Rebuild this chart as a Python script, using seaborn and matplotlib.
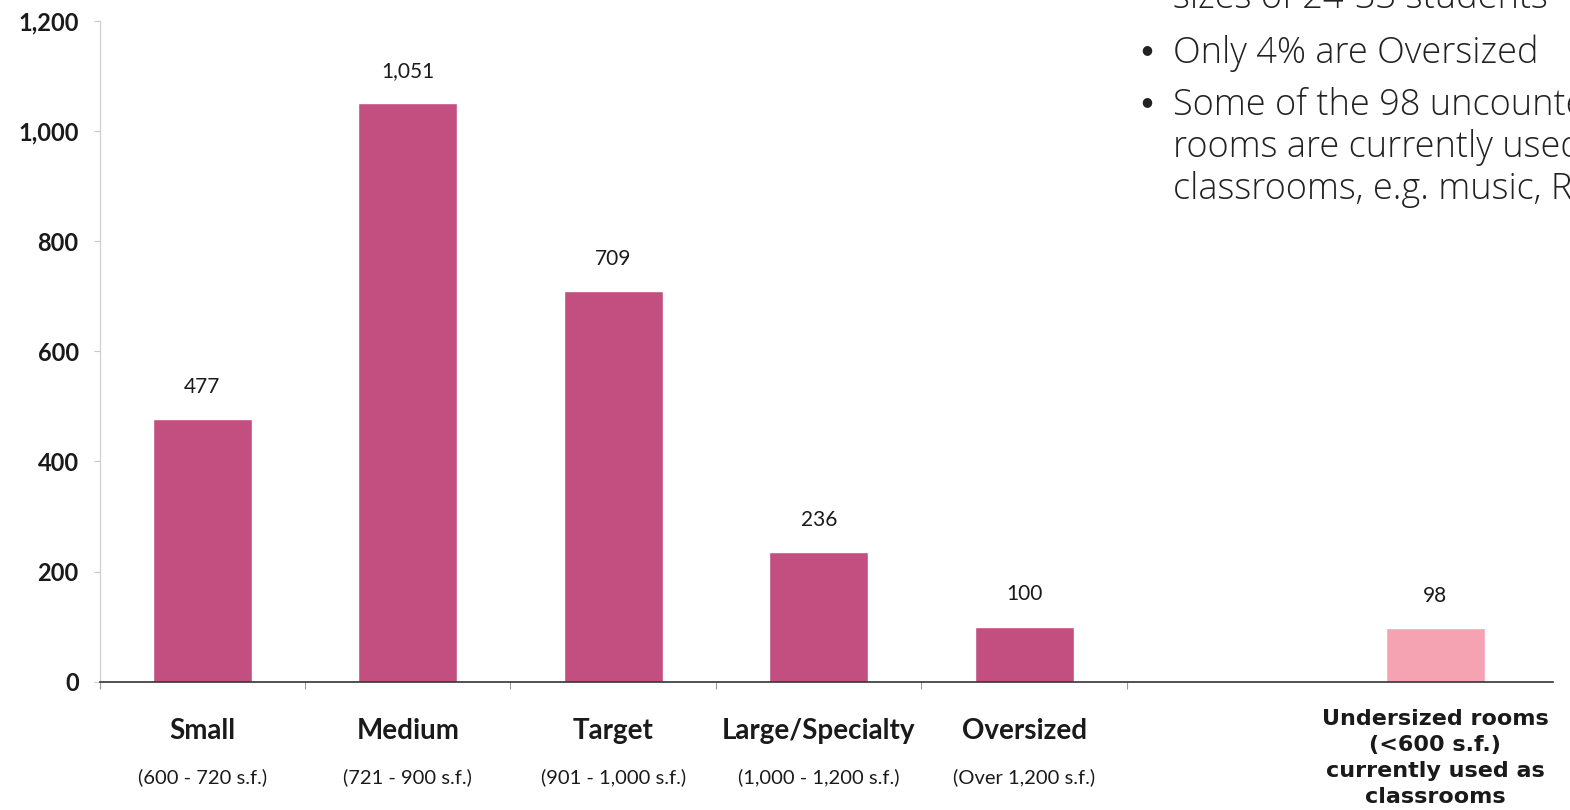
import pandas as pd
import seaborn as sns
import matplotlib.pyplot as plt
from matplotlib.ticker import FuncFormatter

# the chart's values...
categories = ['Small', 'Medium', 'Target', 'Large/Specialty', 'Oversized', '', 'Undersized']
room_counts = [477, 1051, 709, 236, 100, None, 98]
size_ranges = ['(600 - 720 s.f.)', '(721 - 900 s.f.)', '(901 - 1,000 s.f.)',
               '(1,000 - 1,200 s.f.)', '(Over 1,200 s.f.)']
undersized_label = ['Undersized rooms', '(<600 s.f.)', 'currently used as', 'classrooms']
notes = ['sizes of 24-33 students', 'Only 4% are Oversized',
         'Some of the 98 uncounted', 'rooms are currently used as',
         'classrooms, e.g. music, RSP']

df = pd.DataFrame({'category': categories, 'rooms': room_counts}).dropna()

sns.set_theme(style='white')
plt.rcParams['font.family'] = ['Lato', 'DejaVu Sans']

W, H = 1570, 810
fig = plt.figure(figsize=(W / 100, H / 100), dpi=100)
x0, y0 = 99.5, 681.7          # axis origin, in pixels from top-left
ax = fig.add_axes([x0 / W, 1 - y0 / H, (1553 - x0) / W, (y0 - 20.9) / H])

colours = {c: '#c24f7f' for c in categories}
colours['Undersized'] = '#f5a3b3'
sns.barplot(data=df, x='category', y='rooms', hue='category', order=categories,
            palette=colours, width=0.48, legend=False, ax=ax, saturation=1)

# value labels above each bar...
for container in ax.containers:
    ax.bar_label(container, labels=[f'{v:,.0f}' for v in container.datavalues],
                 padding=16, fontsize=15, color='#1a1a1a')

ax.set_xlim(-0.5, 6.573)
ax.set_ylim(0, 1200)
ax.set_yticks(range(0, 1201, 200))
ax.yaxis.set_major_formatter(FuncFormatter(lambda v, p: f'{v:,.0f}'))
ax.tick_params(axis='y', labelsize=17, length=4, width=0.8, color='#c8c8c8',
               pad=11, left=True)
for lbl in ax.get_yticklabels():
    lbl.set_fontweight('bold')
    lbl.set_color('#1a1a1a')

ax.set_xticks([])
ax.set_xticks([-0.5, 0.5, 1.5, 2.5, 3.5, 4.5], minor=True)
ax.tick_params(axis='x', which='minor', length=5, width=0.8, color='#9a9a9a',
               bottom=True)
ax.set_xlabel('')
ax.set_ylabel('')

sns.despine(ax=ax, top=True, right=True)
ax.spines['left'].set_color('#d0d0d0')
ax.spines['left'].set_linewidth(0.9)
ax.spines['bottom'].set_color('#333333')
ax.spines['bottom'].set_linewidth(1.2)

# category names under the axis (y given as pixel baselines)...
ax_h = y0 - 20.9
trans = ax.get_xaxis_transform()


def below(py):
    return -(py - y0) / ax_h


for i, rng in enumerate(size_ranges):
    ax.text(i, below(739), categories[i], transform=trans, ha='center', va='baseline',
            fontsize=20, fontweight='bold', color='#1a1a1a')
    ax.text(i, below(783), rng, transform=trans, ha='center', va='baseline',
            fontsize=14.5, color='#1a1a1a')
for j, line in enumerate(undersized_label):
    ax.text(6, below(725 + j * 26), line, transform=trans, ha='center', va='baseline',
            fontsize=16, fontweight='bold', color='#1a1a1a', family='DejaVu Sans')

# notes in the upper right, cut by the edge of the figure...
note_font = ['Open Sans', 'DejaVu Sans']
note_baselines = [8, 63, 115, 157, 199]
for line, py in zip(notes, note_baselines):
    fig.text(1173 / W, 1 - py / H, line, ha='left', va='baseline', fontsize=26,
             color='#222222', family=note_font, fontweight='light')
for py in [63, 115]:
    fig.text(1147 / W, 1 - (py - 13) / H, '\u25cf', ha='center', va='center',
             fontsize=9, color='#222222', family='DejaVu Sans')

plt.savefig('out.png', dpi=100)
